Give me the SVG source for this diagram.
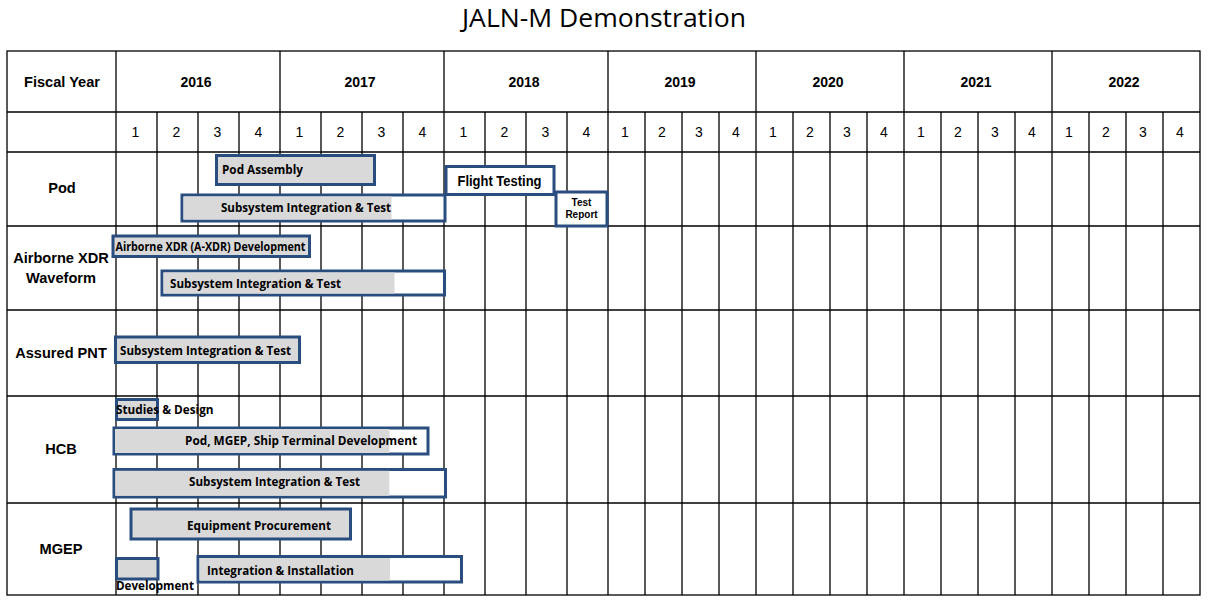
<svg xmlns="http://www.w3.org/2000/svg" width="1209" height="611" viewBox="0 0 1209 611">
  <style>
    .grid { stroke: #000; stroke-width: 1.3; fill: none; }
    .title { font-family: "Open Sans", "Noto Sans", sans-serif; font-size: 25px; fill: #000; }
    .hdr { font-family: "Liberation Sans", Arial, sans-serif; font-size: 14px; font-weight: bold; fill: #000; }
    .rl { font-family: "Liberation Sans", Arial, sans-serif; font-size: 14.6px; font-weight: bold; fill: #000; text-anchor: middle; }
    .q { font-family: "Liberation Sans", Arial, sans-serif; font-size: 14px; fill: #000; text-anchor: middle; }
    .bar { fill: #d9d9d9; stroke: #2a4d80; stroke-width: 3; }
    .barw { fill: #ffffff; stroke: #2a4d80; stroke-width: 3; }
    .bl { font-family: "Open Sans", "Noto Sans", sans-serif; font-size: 12.8px; font-weight: bold; fill: #000; }
    .bl2 { font-family: "Liberation Sans", Arial, sans-serif; font-weight: bold; fill: #000; }
  </style>

  <rect width="1209" height="611" fill="#ffffff"/>

  <text class="title" x="604" y="27" text-anchor="middle" textLength="284" lengthAdjust="spacingAndGlyphs">JALN-M Demonstration</text>

  <!-- table grid -->
  <g id="grid" class="grid">
    <rect x="7" y="51" width="1193" height="544"/>
    <!-- row separators -->
    <line x1="7" y1="112" x2="1200" y2="112"/>
    <line x1="7" y1="152" x2="1200" y2="152"/>
    <line x1="7" y1="226" x2="1200" y2="226"/>
    <line x1="7" y1="310" x2="1200" y2="310"/>
    <line x1="7" y1="396" x2="1200" y2="396"/>
    <line x1="7" y1="503" x2="1200" y2="503"/>
    <!-- label column and year boundaries -->
    <line x1="116" y1="51" x2="116" y2="595"/>
    <line x1="280" y1="51" x2="280" y2="595"/>
    <line x1="444" y1="51" x2="444" y2="595"/>
    <line x1="608" y1="51" x2="608" y2="595"/>
    <line x1="756" y1="51" x2="756" y2="595"/>
    <line x1="904" y1="51" x2="904" y2="595"/>
    <line x1="1052" y1="51" x2="1052" y2="595"/>
    <!-- quarter boundaries -->
    <path d="M157 112V595M198 112V595M239 112V595
             M321 112V595M362 112V595M403 112V595
             M485 112V595M526 112V595M567 112V595
             M645 112V595M682 112V595M719 112V595
             M793 112V595M830 112V595M867 112V595
             M941 112V595M978 112V595M1015 112V595
             M1089 112V595M1126 112V595M1163 112V595"/>
  </g>

  <!-- header texts -->
  <g id="header">
    <text class="rl" x="62" y="87">Fiscal Year</text>
    <text class="hdr" x="196" y="87" text-anchor="middle">2016</text>
    <text class="hdr" x="360" y="87" text-anchor="middle">2017</text>
    <text class="hdr" x="524" y="87" text-anchor="middle">2018</text>
    <text class="hdr" x="680" y="87" text-anchor="middle">2019</text>
    <text class="hdr" x="828" y="87" text-anchor="middle">2020</text>
    <text class="hdr" x="976" y="87" text-anchor="middle">2021</text>
    <text class="hdr" x="1124" y="87" text-anchor="middle">2022</text>
  </g>
  <g id="quarters">
    <text class="q" x="135.5" y="137">1</text><text class="q" x="176.5" y="137">2</text><text class="q" x="217.5" y="137">3</text><text class="q" x="258.5" y="137">4</text>
    <text class="q" x="299.5" y="137">1</text><text class="q" x="340.5" y="137">2</text><text class="q" x="381.5" y="137">3</text><text class="q" x="422.5" y="137">4</text>
    <text class="q" x="463.5" y="137">1</text><text class="q" x="504.5" y="137">2</text><text class="q" x="545.5" y="137">3</text><text class="q" x="586.5" y="137">4</text>
    <text class="q" x="625" y="137">1</text><text class="q" x="662" y="137">2</text><text class="q" x="699" y="137">3</text><text class="q" x="736" y="137">4</text>
    <text class="q" x="773" y="137">1</text><text class="q" x="810" y="137">2</text><text class="q" x="847" y="137">3</text><text class="q" x="884" y="137">4</text>
    <text class="q" x="921" y="137">1</text><text class="q" x="958" y="137">2</text><text class="q" x="995" y="137">3</text><text class="q" x="1032" y="137">4</text>
    <text class="q" x="1069" y="137">1</text><text class="q" x="1106" y="137">2</text><text class="q" x="1143" y="137">3</text><text class="q" x="1180" y="137">4</text>
  </g>

  <!-- row labels -->
  <g id="row-labels">
    <text class="rl" x="62" y="193">Pod</text>
    <text class="rl" x="61" y="263">Airborne XDR</text>
    <text class="rl" x="61" y="283">Waveform</text>
    <text class="rl" x="61" y="358">Assured PNT</text>
    <text class="rl" x="61" y="454">HCB</text>
    <text class="rl" x="61" y="554">MGEP</text>
  </g>

  <!-- Pod tasks -->
  <g id="pod-assembly">
    <rect class="bar" x="216.5" y="155.5" width="158" height="29"/>
    <text class="bl" x="222" y="174" textLength="81" lengthAdjust="spacingAndGlyphs">Pod Assembly</text>
  </g>
  <g id="pod-integration">
    <rect class="barw" x="182" y="195" width="263" height="26"/>
    <rect x="183.5" y="196.5" width="208" height="23" fill="#d9d9d9"/>
    <text class="bl" x="221" y="212" textLength="170" lengthAdjust="spacingAndGlyphs">Subsystem Integration &amp; Test</text>
  </g>
  <g id="flight-testing">
    <rect class="barw" x="446" y="166.5" width="108" height="28"/>
    <text class="bl2" x="457.5" y="185.5" font-size="14" textLength="84" lengthAdjust="spacingAndGlyphs">Flight Testing</text>
  </g>
  <g id="test-report">
    <rect class="barw" x="556" y="192" width="51" height="34"/>
    <text class="bl2" x="581.5" y="206" font-size="10" text-anchor="middle">Test</text>
    <text class="bl2" x="581.5" y="218" font-size="10" text-anchor="middle">Report</text>
  </g>

  <!-- Airborne XDR Waveform tasks -->
  <g id="axdr-development">
    <rect class="bar" x="113" y="236" width="196.5" height="20.5"/>
    <text class="bl" x="115.5" y="250.5" font-size="11" textLength="190" lengthAdjust="spacingAndGlyphs">Airborne XDR (A-XDR) Development</text>
  </g>
  <g id="axdr-integration">
    <rect class="barw" x="162" y="271" width="282.5" height="24"/>
    <rect x="163.5" y="272.5" width="231" height="21" fill="#d9d9d9"/>
    <text class="bl" x="170" y="288" textLength="171" lengthAdjust="spacingAndGlyphs">Subsystem Integration &amp; Test</text>
  </g>

  <!-- Assured PNT task -->
  <g id="pnt-integration">
    <rect class="bar" x="115.5" y="337" width="184" height="25.5"/>
    <text class="bl" x="120" y="354.5" textLength="171" lengthAdjust="spacingAndGlyphs">Subsystem Integration &amp; Test</text>
  </g>

  <!-- HCB tasks -->
  <g id="hcb-studies">
    <rect class="bar" x="116.5" y="399.5" width="41" height="20"/>
    <text class="bl" x="116" y="413.5" textLength="97.5" lengthAdjust="spacingAndGlyphs">Studies &amp; Design</text>
  </g>
  <g id="hcb-development">
    <rect class="barw" x="114" y="428" width="314" height="26" stroke-width="2.2"/>
    <rect x="115" y="429" width="274.5" height="24" fill="#d9d9d9"/>
    <text class="bl" x="185" y="444.5" textLength="232" lengthAdjust="spacingAndGlyphs">Pod, MGEP, Ship Terminal Development</text>
  </g>
  <g id="hcb-integration">
    <rect class="barw" x="114" y="469.5" width="331.5" height="27.5" stroke-width="2.6"/>
    <rect x="115.3" y="470.8" width="274" height="25" fill="#d9d9d9"/>
    <text class="bl" x="189" y="486" textLength="171" lengthAdjust="spacingAndGlyphs">Subsystem Integration &amp; Test</text>
  </g>

  <!-- MGEP tasks -->
  <g id="mgep-procurement">
    <rect class="bar" x="131" y="509" width="219.5" height="30"/>
    <text class="bl" x="187" y="529.5" textLength="144" lengthAdjust="spacingAndGlyphs">Equipment Procurement</text>
  </g>
  <g id="mgep-development">
    <rect class="bar" x="116.5" y="558.5" width="41.5" height="20.5"/>
    <text class="bl" x="116" y="589.5" textLength="78" lengthAdjust="spacingAndGlyphs">Development</text>
  </g>
  <g id="mgep-integration">
    <rect class="barw" x="198" y="556.5" width="263.5" height="25.5"/>
    <rect x="199.5" y="558" width="190.5" height="22.5" fill="#d9d9d9"/>
    <text class="bl" x="207" y="574.5" textLength="147" lengthAdjust="spacingAndGlyphs">Integration &amp; Installation</text>
  </g>
</svg>
